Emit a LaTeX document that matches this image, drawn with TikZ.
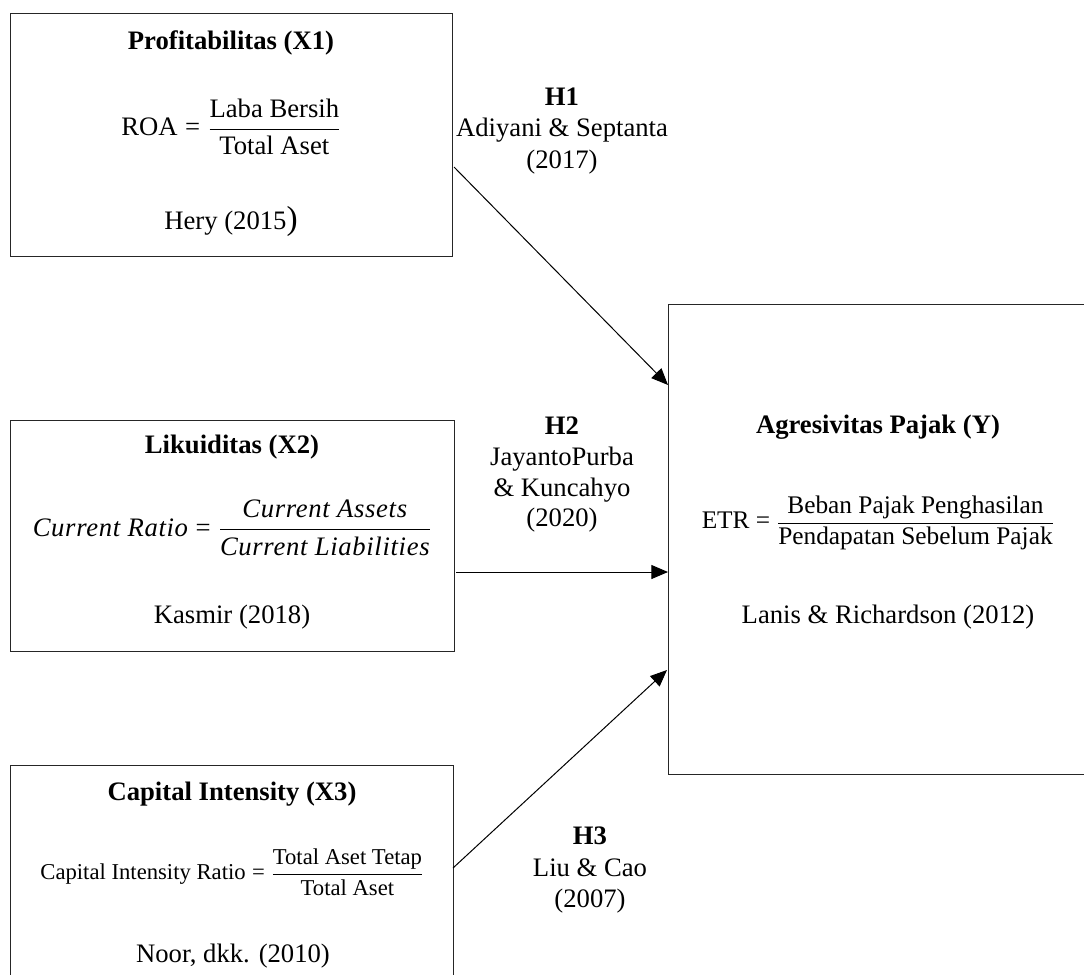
\documentclass[tikz,border=0pt]{standalone}
\usepackage{fontspec}
\setmainfont{Liberation Serif}
\usetikzlibrary{arrows.meta}
\newcommand{\eqsign}{\mathrel{\mbox{=}}}
\tikzset{
  box/.style={draw=black!85, line width=0.9pt, inner sep=0pt, anchor=north west},
  txt/.style={inner sep=0pt, font=\fontsize{20}{23.5}\selectfont, align=center},
  ttl/.style={txt, font=\fontsize{20}{23.5}\selectfont\bfseries},
  frm/.style={inner sep=0pt, font=\fontsize{20}{23}\selectfont},
  arr/.style={line width=0.75pt, -{Triangle[length=12.5pt,width=10.5pt]}},
}
\begin{document}
\begin{tikzpicture}[x=0.75pt,y=-0.75pt]
\useasboundingbox (0,0) rectangle (1084,974);
\clip (0,0) rectangle (1084,974);
% boxes
\node[box, minimum width=331.5pt, minimum height=182.25pt] (x1) at (10,13) {};
\node[box, minimum width=333pt, minimum height=173.25pt] (x2) at (10,420) {};
\node[box, minimum width=332.25pt, minimum height=190pt] (x3) at (10,765) {};
\node[box, minimum width=340pt, minimum height=352.5pt] (y) at (668,304) {};
% X1
\node[ttl] (x1t) at (231,43) {Profitabilitas (X1)};
\node[frm] (x1f) at (231,127) {$\displaystyle\mbox{ROA} \eqsign \frac{\mbox{Laba Bersih}}{\mbox{Total Aset}}$};
\node[txt] (x1r) at (231,221) {Hery (2015{\fontsize{25}{25}\selectfont )}};
% X2
\node[ttl] (x2t) at (232,447) {Likuiditas (X2)};
\node[frm] (x2f) at (232,528) {\addfontfeature{LetterSpace=2.5}$\displaystyle\mbox{\itshape Current Ratio} \eqsign \frac{\mbox{\itshape Current Assets}}{\mbox{\itshape Current Liabilities}}$};
\node[txt] (x2r) at (232,617) {Kasmir (2018)};
% X3
\node[ttl] (x3t) at (232,794) {Capital Intensity (X3)};
\node[frm, font=\fontsize{17}{20}\selectfont] (x3f) at (232,872) {$\displaystyle\mbox{Capital Intensity Ratio} \eqsign \frac{\mbox{Total Aset Tetap}}{\mbox{Total Aset}}$};
\node[txt] (x3r) at (233,956) {Noor, dkk. (2010)};
% Y
\node[ttl] (yt) at (878,427) {Agresivitas Pajak (Y)};
\node[frm, font=\fontsize{19}{22}\selectfont] (yf) at (878,523) {$\displaystyle\mbox{ETR} \eqsign \frac{\mbox{Beban Pajak Penghasilan}}{\mbox{Pendapatan Sebelum Pajak}}$};
\node[txt] (yr) at (888,617) {Lanis \& Richardson (2012)};
% hypothesis labels
\node[txt] (h1) at (562,131) {\textbf{H1}\\Adiyani \& Septanta\\(2017)};
\node[txt, font=\fontsize{20}{23}\selectfont] (h2) at (562,475) {\textbf{H2}\\JayantoPurba\\\& Kuncahyo\\(2020)};
\node[txt] (h3) at (590,870) {\textbf{H3}\\Liu \& Cao\\(2007)};
% arrows
\coordinate (a1s) at (454,167);
\coordinate (a1e) at (668,385);
\coordinate (a2s) at (456,572);
\coordinate (a2e) at (668,572);
\coordinate (a3s) at (453,868);
\coordinate (a3e) at (667,670);
\draw[arr] (a1s) -- (a1e);
\draw[arr] (a2s) -- (a2e);
\draw[arr] (a3s) -- (a3e);
\end{tikzpicture}
\end{document}
